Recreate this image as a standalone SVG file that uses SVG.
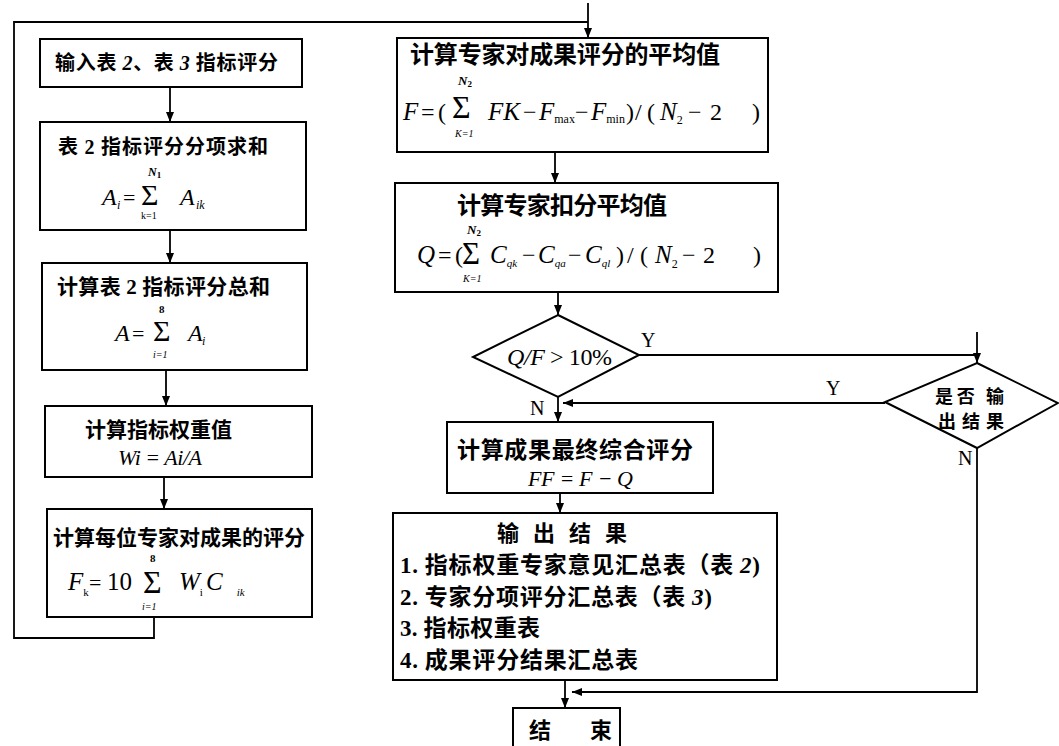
<svg xmlns="http://www.w3.org/2000/svg" width="1059" height="746" viewBox="0 0 1059 746">
<style>
.box{fill:#fff;stroke:#000;stroke-width:2}
.ln{fill:none;stroke:#000;stroke-width:1.8}
.cj{font-family:"Noto Sans CJK SC","Noto Sans CJK TC",sans-serif;font-weight:700;fill:#000}
.m{font-family:"Liberation Serif",serif;font-style:italic;fill:#000}
.r{font-family:"Liberation Serif",serif;font-style:normal;fill:#000}
</style>
<defs>
<marker id="ah" viewBox="0 0 10 10" refX="10" refY="5" markerWidth="11" markerHeight="10" markerUnits="userSpaceOnUse" orient="auto">
<path d="M0,1 L10,5 L0,9 z" fill="#000"/>
</marker>
</defs>
<rect width="1059" height="746" fill="#fff"/>

<g id="connectors">
<polyline class="ln" points="154,617 154,638 14,638 14,22 588,22"/>
<line class="ln" x1="588" y1="3" x2="588" y2="38" marker-end="url(#ah)"/>
<line class="ln" x1="170" y1="87" x2="170" y2="122" marker-end="url(#ah)"/>
<line class="ln" x1="170" y1="230" x2="170" y2="263" marker-end="url(#ah)"/>
<line class="ln" x1="166" y1="370" x2="166" y2="406" marker-end="url(#ah)"/>
<line class="ln" x1="164" y1="477" x2="164" y2="509" marker-end="url(#ah)"/>
<line class="ln" x1="555" y1="152" x2="555" y2="183" marker-end="url(#ah)"/>
<line class="ln" x1="558" y1="292" x2="558" y2="315" marker-end="url(#ah)"/>
<line class="ln" x1="639" y1="355" x2="977" y2="355"/>
<line class="ln" x1="977" y1="332" x2="977" y2="363" marker-end="url(#ah)"/>
<line class="ln" x1="558" y1="397" x2="558" y2="422" marker-end="url(#ah)"/>
<line class="ln" x1="885" y1="403" x2="563" y2="403" marker-end="url(#ah)"/>
<line class="ln" x1="560" y1="493" x2="560" y2="513" marker-end="url(#ah)"/>
<line class="ln" x1="565" y1="680" x2="565" y2="708" marker-end="url(#ah)"/>
<polyline class="ln" points="977,448 977,692 572,692" marker-end="url(#ah)"/>
<text class="r" x="641" y="347" font-size="20">Y</text>
<text class="r" x="826" y="395" font-size="20">Y</text>
<text class="r" x="530" y="415" font-size="20">N</text>
<text class="r" x="958" y="465" font-size="20">N</text>
</g>

<g id="n1">
<rect class="box" x="40" y="39" width="262" height="48"/>
<text class="cj" x="55" y="70" font-size="20" textLength="223" lengthAdjust="spacing">输入表 <tspan class="m">2</tspan>、表 <tspan class="m">3</tspan> 指标评分</text>
</g>

<g id="n2">
<rect class="box" x="40" y="122" width="266" height="108"/>
<text class="cj" x="58" y="154" font-size="20" textLength="210" lengthAdjust="spacing">表 <tspan class="r">2</tspan> 指标评分分项求和</text>
<text class="m" x="102" y="205" font-size="24">A</text>
<text class="m" x="117" y="209" font-size="12">i</text>
<text class="r" x="123" y="205" font-size="22">=</text>
<text class="r" x="141" y="205" font-size="30">Σ</text>
<text class="m" x="148" y="176" font-size="12" font-weight="bold">N<tspan class="r" font-size="9" dy="2">1</tspan></text>
<text class="r" x="141" y="219" font-size="10">k=1</text>
<text class="m" x="180" y="205" font-size="24">A</text>
<text class="m" x="196" y="209" font-size="12">ik</text>
</g>

<g id="n3">
<rect class="box" x="42" y="263" width="265" height="107"/>
<text class="cj" x="57" y="294" font-size="21" textLength="213" lengthAdjust="spacing">计算表 <tspan class="r">2</tspan> 指标评分总和</text>
<text class="m" x="115" y="341" font-size="24">A</text>
<text class="r" x="132" y="341" font-size="22">=</text>
<text class="r" x="153" y="341" font-size="30">Σ</text>
<text class="r" x="159" y="313" font-size="11" font-weight="bold">8</text>
<text class="m" x="153" y="358" font-size="10">i=1</text>
<text class="m" x="188" y="341" font-size="24">A</text>
<text class="m" x="202" y="345" font-size="12">i</text>
</g>

<g id="n4">
<rect class="box" x="45" y="406" width="267" height="71"/>
<text class="cj" x="85" y="437" font-size="21" textLength="147" lengthAdjust="spacing">计算指标权重值</text>
<text class="m" x="118" y="465" font-size="22" textLength="84" lengthAdjust="spacing">Wi = Ai/A</text>
</g>

<g id="n5">
<rect class="box" x="47" y="509" width="265" height="108"/>
<text class="cj" x="53" y="545" font-size="21" textLength="252" lengthAdjust="spacing">计算每位专家对成果的评分</text>
<text class="m" x="68" y="590" font-size="25">F<tspan class="r" font-size="11" dy="6">k</tspan></text>
<text class="r" x="89" y="590" font-size="22">=</text>
<text class="r" x="107" y="590" font-size="25">10</text>
<text class="r" x="143" y="593" font-size="32">Σ</text>
<text class="r" x="150" y="562" font-size="11" font-weight="bold">8</text>
<text class="m" x="142" y="610" font-size="10">i=1</text>
<text class="m" x="179" y="590" font-size="25">W<tspan class="r" font-size="11" dy="6">i</tspan></text>
<text class="m" x="206" y="590" font-size="25">C<tspan font-size="11" dx="14" dy="6">ik</tspan></text>
</g>

<g id="nF">
<rect class="box" x="397" y="38" width="371" height="114"/>
<text class="cj" x="410" y="63" font-size="24" textLength="310" lengthAdjust="spacing">计算专家对成果评分的平均值</text>
<text class="m" x="403" y="120" font-size="25">F</text>
<text class="r" x="421" y="120" font-size="24">=</text>
<text class="r" x="438" y="120" font-size="24">(</text>
<text class="r" x="452" y="118" font-size="32">Σ</text>
<text class="m" x="458" y="85" font-size="13" font-weight="bold">N<tspan class="r" font-size="9" dy="2">2</tspan></text>
<text class="m" x="455" y="137" font-size="10">K=1</text>
<text class="m" x="488" y="120" font-size="25">FK</text>
<text class="r" x="523" y="120" font-size="24">−</text>
<text class="m" x="539" y="120" font-size="25">F<tspan class="r" font-size="12" dy="3">max</tspan></text>
<text class="r" x="575" y="120" font-size="24">−</text>
<text class="m" x="591" y="120" font-size="25">F<tspan class="r" font-size="12" dy="3">min</tspan></text>
<text class="r" x="626" y="120" font-size="24">)</text>
<text class="r" x="635" y="120" font-size="24">/</text>
<text class="r" x="647" y="120" font-size="24">(</text>
<text class="m" x="660" y="120" font-size="25">N<tspan class="r" font-size="12" dy="4">2</tspan></text>
<text class="r" x="688" y="120" font-size="24">−</text>
<text class="r" x="710" y="120" font-size="24">2</text>
<text class="r" x="752" y="120" font-size="24">)</text>
</g>

<g id="nQ">
<rect class="box" x="395" y="183" width="383" height="109"/>
<text class="cj" x="457" y="214" font-size="24" textLength="210" lengthAdjust="spacing">计算专家扣分平均值</text>
<text class="m" x="467" y="234" font-size="13" font-weight="bold">N<tspan class="r" font-size="9" dy="2">2</tspan></text>
<text class="m" x="417" y="263" font-size="25">Q</text>
<text class="r" x="438" y="263" font-size="24">=</text>
<text class="r" x="455" y="263" font-size="24">(</text>
<text class="r" x="462" y="264" font-size="31">Σ</text>
<text class="m" x="463" y="282" font-size="10">K=1</text>
<text class="m" x="490" y="263" font-size="25">C<tspan font-size="11" dy="4">qk</tspan></text>
<text class="r" x="522" y="263" font-size="24">−</text>
<text class="m" x="538" y="263" font-size="25">C<tspan font-size="11" dy="4">qa</tspan></text>
<text class="r" x="568" y="263" font-size="24">−</text>
<text class="m" x="585" y="263" font-size="25">C<tspan font-size="11" dy="4">ql</tspan></text>
<text class="r" x="616" y="263" font-size="24">)</text>
<text class="r" x="627" y="263" font-size="24">/</text>
<text class="r" x="640" y="263" font-size="24">(</text>
<text class="m" x="655" y="263" font-size="25">N<tspan class="r" font-size="12" dy="5">2</tspan></text>
<text class="r" x="682" y="263" font-size="24">−</text>
<text class="r" x="703" y="263" font-size="24">2</text>
<text class="r" x="753" y="263" font-size="24">)</text>
</g>

<g id="d1">
<polygon class="box" points="558,315 639,355 558,397 473,357"/>
<text class="r" x="507" y="365" font-size="24" textLength="105" lengthAdjust="spacing"><tspan class="m">Q/F</tspan> &gt; 10%</text>
</g>

<g id="d2">
<polygon class="box" points="977,363 1058,403 977,448 885,402"/>
<text class="cj" x="935" y="403" font-size="18" textLength="69" lengthAdjust="spacing">是否 输</text>
<text class="cj" x="938" y="428" font-size="18" textLength="66" lengthAdjust="spacing">出结果</text>
</g>

<g id="nFF">
<rect class="box" x="447" y="422" width="266" height="71"/>
<text class="cj" x="457" y="458" font-size="23" textLength="236" lengthAdjust="spacing">计算成果最终综合评分</text>
<text class="m" x="528" y="486" font-size="22" textLength="105" lengthAdjust="spacing">FF = F − Q</text>
</g>

<g id="nOut">
<rect class="box" x="393" y="513" width="384" height="167"/>
<text class="cj" x="497" y="541" font-size="22" textLength="130" lengthAdjust="spacing">输 出 结 果</text>
<text class="cj" x="400" y="573" font-size="23" textLength="360" lengthAdjust="spacing"><tspan class="r">1.</tspan> 指标权重专家意见汇总表（表 <tspan class="m">2</tspan><tspan class="r">)</tspan></text>
<text class="cj" x="400" y="605" font-size="23" textLength="312" lengthAdjust="spacing"><tspan class="r">2.</tspan> 专家分项评分汇总表（表 <tspan class="m">3</tspan><tspan class="r">)</tspan></text>
<text class="cj" x="400" y="636" font-size="23" textLength="140" lengthAdjust="spacing"><tspan class="r">3.</tspan> 指标权重表</text>
<text class="cj" x="400" y="668" font-size="23" textLength="238" lengthAdjust="spacing"><tspan class="r">4.</tspan> 成果评分结果汇总表</text>
</g>

<g id="nEnd">
<rect class="box" x="513" y="708" width="107" height="60"/>
<text class="cj" x="529" y="738" font-size="22">结</text>
<text class="cj" x="590" y="738" font-size="22">束</text>
</g>
</svg>
